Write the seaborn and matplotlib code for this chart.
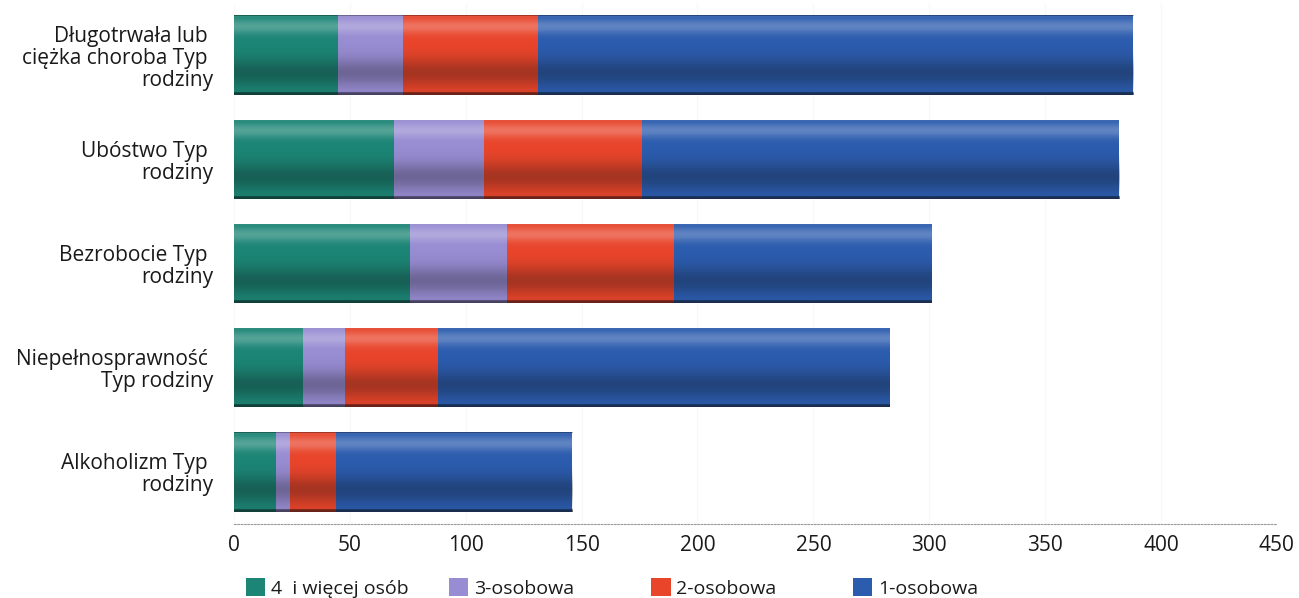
import numpy as np
import pandas as pd
import matplotlib
matplotlib.use("Agg")
import matplotlib.pyplot as plt
from matplotlib.patches import Patch
import seaborn as sns

# ---- data ----
categories = [
    "Długotrwała lub \nciężka choroba Typ \nrodziny",
    "Ubóstwo Typ \nrodziny",
    "Bezrobocie Typ \nrodziny",
    "Niepełnosprawność \nTyp rodziny",
    "Alkoholizm Typ \nrodziny",
]
series_names = ["4  i więcej osób", "3-osobowa", "2-osobowa", "1-osobowa"]
v_4plus = [45, 69, 76, 30, 18]
v_3os = [28, 39, 42, 18, 6]
v_2os = [58, 68, 72, 40, 20]
v_1os = [257, 206, 111, 195, 102]
x_ticks = [0, 50, 100, 150, 200, 250, 300, 350, 400, 450]

colors = ["#1c8575", "#988cd2", "#e8452b", "#2c5cae"]

sns.set_theme(style="white")
plt.rcParams["font.family"] = ["Open Sans", "DejaVu Sans"]

df = pd.DataFrame({
    "cat": categories,
    "s4": v_4plus, "s3": v_3os, "s2": v_2os, "s1": v_1os,
})
df["c4"] = df["s4"]
df["c3"] = df["c4"] + df["s3"]
df["c2"] = df["c3"] + df["s2"]
df["c1"] = df["c2"] + df["s1"]

fig = plt.figure(figsize=(12.99, 5.98), dpi=100)
ax = fig.add_axes([0.1801, 0.1237, 0.8029, 0.8713])

bar_w = 0.76
for col, c in zip(["c1", "c2", "c3", "c4"], colors[::-1]):
    sns.barplot(data=df, x=col, y="cat", order=categories, color=c,
                width=bar_w, linewidth=0, saturation=1, ax=ax, zorder=2)

xlim = (0, 450)
ylim = ax.get_ylim()

# cylinder-like shading overlay on each full bar
n_total = len(categories)
total_patches = ax.patches[:n_total]
t = np.linspace(0, 1, 200)
shade = np.zeros((200, 1, 4))
light = np.exp(-((t - 0.14) / 0.09) ** 2) * 0.25
dark = np.exp(-((t - 0.72) / 0.18) ** 2) * 0.30
edge = (t > 0.965) * 0.55 + (t < 0.015) * 0.35
for i in range(200):
    if light[i] > dark[i] + edge[i]:
        shade[i, 0, :3] = 1.0
        shade[i, 0, 3] = light[i]
    else:
        shade[i, 0, :3] = 0.05
        shade[i, 0, 3] = min(1.0, dark[i] + edge[i])
for p in total_patches:
    x0, y0 = p.get_x(), p.get_y()
    w, h = p.get_width(), p.get_height()
    im = ax.imshow(shade, extent=(x0, x0 + w, y0 + h, y0), origin="upper",
                   aspect="auto", zorder=5, interpolation="bilinear")
    im.set_clip_path(p)

ax.set_xlim(*xlim)
ax.set_ylim(ylim)
ax.set_xticks(x_ticks)
ax.set_xticklabels([str(v) for v in x_ticks])
ax.set_xlabel("")
ax.set_ylabel("")

for s in ["top", "right", "left"]:
    ax.spines[s].set_visible(False)
ax.spines["bottom"].set_color("#9a9a9a")
ax.spines["bottom"].set_linestyle((0, (1.5, 1.5)))
ax.spines["bottom"].set_linewidth(0.8)

ax.xaxis.grid(True, color="#f8f8f8", linewidth=0.8, zorder=0)
ax.set_axisbelow(True)

ax.tick_params(axis="x", length=0, pad=8, labelsize=15, labelcolor="#1a1a1a")
ax.tick_params(axis="y", length=0, pad=15, labelsize=15, labelcolor="#1a1a1a")
for lab in ax.get_yticklabels():
    lab.set_multialignment("right")
    lab.set_linespacing(1.06)

# legend: four evenly spaced entries
legend_x = [0.1894, 0.3456, 0.5012, 0.6567]
for name, c, lx in zip(series_names, colors, legend_x):
    h = Patch(facecolor=c, edgecolor="none")
    fig.legend(handles=[h], labels=[name], loc="center left",
               bbox_to_anchor=(lx, 0.0167), frameon=False, fontsize=14,
               handlelength=1.0, handleheight=1.0, handletextpad=0.3,
               borderpad=0, borderaxespad=0, labelcolor="#1a1a1a")

fig.savefig("out.png", dpi=100)
